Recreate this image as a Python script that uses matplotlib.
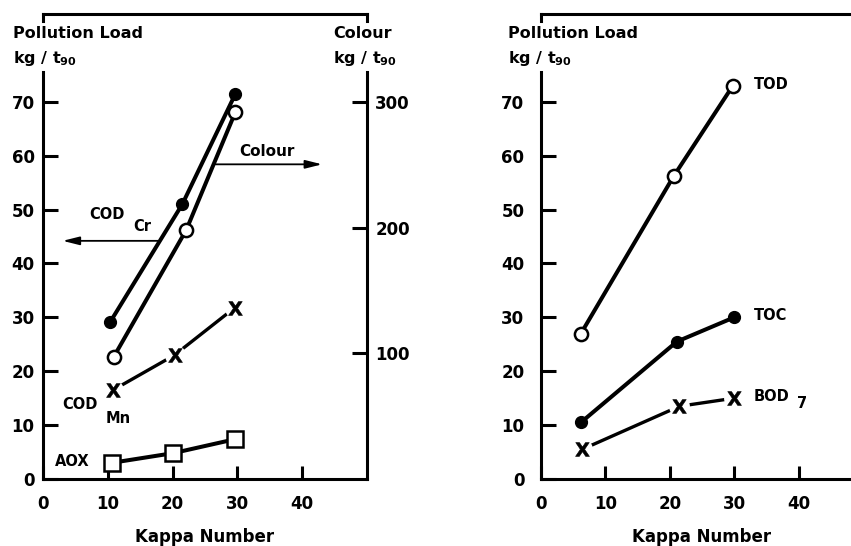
import numpy as np
import matplotlib
matplotlib.use('Agg')
import matplotlib.pyplot as plt

plt.rcParams['font.family'] = ['DejaVu Sans']
plt.rcParams['font.weight'] = 'bold'

# left panel data (kappa number vs load)
cod_cr_x = [10.4, 21.5, 29.7]
cod_cr_y = [29.2, 51.0, 71.5]
colour_x = [10.9, 22.1, 29.7]
colour_y = [97, 198, 292]          # right axis, kg/t90
cod_mn_x = [10.8, 20.3, 29.6]
cod_mn_y = [16.5, 23.0, 31.8]
aox_x = [10.6, 20.1, 29.7]
aox_y = [3.0, 4.8, 7.4]

# right panel data
tod_x = [6.2, 20.6, 29.8]
tod_y = [27.0, 56.2, 73.0]
toc_x = [6.2, 21.1, 30.0]
toc_y = [10.5, 25.5, 30.0]
bod_x = [6.4, 21.5, 30.0]
bod_y = [5.5, 13.5, 15.0]

x_ticks = [0, 10, 20, 30, 40]
y_ticks = [0, 10, 20, 30, 40, 50, 60, 70]
colour_ticks = [100, 200, 300]

YTOP = 86.3
SPINE_TOP = 75.5
LW = 2.9
SW = 2.2
XMARK = r'$\mathsf{X}$'

fig = plt.figure(figsize=(8.51, 5.46), dpi=100)
ax1 = fig.add_axes([43/851, 1-479/546, 324/851, 465/546])
ax2 = fig.add_axes([541/851, 1-479/546, 322/851, 465/546])


def vspine(ax, x):
    # vertical axis line stops below the heading, small stub at the top frame
    ax.plot([x, x], [0, SPINE_TOP / YTOP], transform=ax.transAxes, color='black',
            lw=SW, clip_on=False, solid_capstyle='projecting', zorder=6)
    ax.plot([x, x], [0.985, 1.0], transform=ax.transAxes, color='black',
            lw=SW, clip_on=False, zorder=6)


def style(ax, ypad):
    ax.set_xlim(0, 50)
    ax.set_ylim(0, YTOP)
    ax.set_xticks(x_ticks)
    ax.set_yticks(y_ticks)
    for s in ax.spines.values():
        s.set_linewidth(SW)
    ax.spines['left'].set_visible(False)
    ax.spines['right'].set_visible(False)
    ax.tick_params(axis='x', direction='in', length=9.5, width=SW, pad=11.5, labelsize=12)
    ax.tick_params(axis='y', direction='in', length=11, width=SW, pad=ypad, labelsize=12)
    vspine(ax, 0)
    ax.set_xlabel('Kappa Number', fontsize=12, fontweight='bold', labelpad=11)


style(ax1, 6)
style(ax2, 12)
vspine(ax1, 1)

# right axis for colour
ax1r = ax1.twinx()
ax1r.set_ylim(0, YTOP * 300 / 70)
ax1r.set_yticks(colour_ticks)
for s in ax1r.spines.values():
    s.set_visible(False)
ax1r.tick_params(axis='y', direction='in', length=11, width=SW, pad=6, labelsize=12)

# left panel lines
ax1.plot(cod_cr_x, cod_cr_y, color='black', lw=LW, marker='o', ms=8.5, zorder=3)
ax1r.plot(colour_x, colour_y, color='black', lw=LW, marker='o', ms=9.5,
          mfc='white', mec='black', mew=1.8, zorder=3)
ax1.plot(cod_mn_x, cod_mn_y, color='black', lw=2.4, zorder=3)
ax1.plot(cod_mn_x, cod_mn_y, ls='none', marker='o', ms=15, mfc='white', mec='none', zorder=4)
ax1.plot(cod_mn_x, cod_mn_y, ls='none', marker=XMARK, ms=10, mew=0.4, color='black', zorder=5)
ax1.plot(aox_x, aox_y, color='black', lw=LW, marker='s', ms=11,
         mfc='white', mec='black', mew=1.8, zorder=3)

# right panel lines
ax2.plot(tod_x, tod_y, color='black', lw=LW, marker='o', ms=9.5,
         mfc='white', mec='black', mew=1.8, zorder=3)
ax2.plot(toc_x, toc_y, color='black', lw=LW, marker='o', ms=8.5, zorder=3)
ax2.plot(bod_x, bod_y, color='black', lw=2.4, zorder=3)
ax2.plot(bod_x, bod_y, ls='none', marker='o', ms=15, mfc='white', mec='none', zorder=4)
ax2.plot(bod_x, bod_y, ls='none', marker=XMARK, ms=10, mew=0.4, color='black', zorder=5)

# axis headings
head = dict(fontsize=11.5, fontweight='bold', va='center')
fig.text(13/851, 1-33/546, 'Pollution Load', **head)
fig.text(13/851, 1-58/546, r'kg / t$_{\mathbf{90}}$', **head)
fig.text(333/851, 1-33/546, 'Colour', **head)
fig.text(333/851, 1-58/546, r'kg / t$_{\mathbf{90}}$', **head)
fig.text(508/851, 1-33/546, 'Pollution Load', **head)
fig.text(508/851, 1-58/546, r'kg / t$_{\mathbf{90}}$', **head)

arrow = dict(arrowstyle='-|>,head_length=1.0,head_width=0.25', color='black', lw=1.3)
lab = dict(fontsize=10.5, fontweight='bold', ha='left', va='center')

# annotations left panel
ax1.text(34.6, 60.8, 'Colour', fontsize=11, fontweight='bold', ha='center', va='center')
ax1.annotate('', xy=(43.5, 58.4), xytext=(26.2, 58.4), arrowprops=arrow)
ax1.text(7.2, 49.0, 'COD', **lab)
ax1.text(13.9, 46.8, 'Cr', **lab)
ax1.annotate('', xy=(2.6, 44.2), xytext=(18.2, 44.2), arrowprops=arrow)
ax1.text(3.0, 13.8, 'COD', **lab)
ax1.text(9.6, 11.2, 'Mn', **lab)
ax1.text(1.8, 3.3, 'AOX', **lab)

# annotations right panel
ax2.text(33.0, 73.2, 'TOD', **lab)
ax2.text(33.0, 30.3, 'TOC', **lab)
ax2.text(33.0, 15.3, 'BOD', **lab)
ax2.text(39.8, 14.0, '7', **lab)

fig.savefig('out.png', dpi=100)
